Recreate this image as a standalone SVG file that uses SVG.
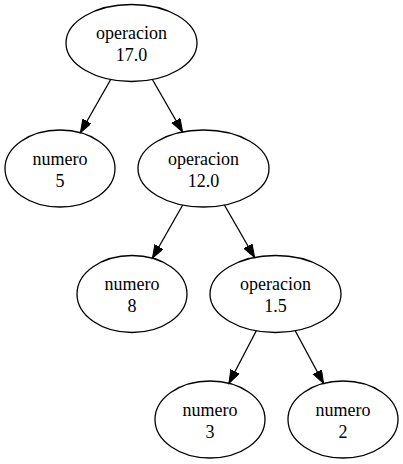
<svg xmlns="http://www.w3.org/2000/svg" width="403" height="464" viewBox="0 0 403 464">
<style>
.node ellipse{fill:none;stroke:#000;stroke-width:1.3}
.node text{font-family:'Liberation Serif','Times New Roman',serif;font-size:18px;fill:#000;text-anchor:middle}
.edge line{stroke:#000;stroke-width:1.3}
</style>
<defs>
<marker id="arr" markerUnits="userSpaceOnUse" markerWidth="15" markerHeight="11" refX="13.3" refY="4.7" orient="auto">
<path d="M0,0 L13.3,4.7 L0,9.4 z" fill="#000" stroke="#000" stroke-width="1"/>
</marker>
</defs>
<rect width="403" height="464" fill="#fff"/>
<g id="edges" class="edge">
<line x1="110.7" y1="79.5" x2="80.4" y2="132.7" marker-end="url(#arr)"/>
<line x1="152.4" y1="79.5" x2="182.6" y2="132" marker-end="url(#arr)"/>
<line x1="182.7" y1="205" x2="152.4" y2="258.2" marker-end="url(#arr)"/>
<line x1="224.4" y1="205" x2="254.6" y2="257.5" marker-end="url(#arr)"/>
<line x1="256.3" y1="330.8" x2="228.9" y2="383.3" marker-end="url(#arr)"/>
<line x1="295.2" y1="330.7" x2="323.6" y2="383.5" marker-end="url(#arr)"/>
</g>
<g id="n1" class="node"><ellipse cx="131.5" cy="43" rx="65.5" ry="38.5"/><text x="131.5" y="39">operacion</text><text x="131.5" y="61">17.0</text></g>
<g id="n2" class="node"><ellipse cx="60" cy="168.5" rx="55" ry="38.5"/><text x="60" y="164.5">numero</text><text x="60" y="186.5">5</text></g>
<g id="n3" class="node"><ellipse cx="203.5" cy="168.5" rx="65.5" ry="38.5"/><text x="203.5" y="164.5">operacion</text><text x="203.5" y="186.5">12.0</text></g>
<g id="n4" class="node"><ellipse cx="132" cy="294" rx="55" ry="38.5"/><text x="132" y="290">numero</text><text x="132" y="312">8</text></g>
<g id="n5" class="node"><ellipse cx="275.5" cy="294" rx="65.5" ry="38.5"/><text x="275.5" y="290">operacion</text><text x="275.5" y="312">1.5</text></g>
<g id="n6" class="node"><ellipse cx="210" cy="419.5" rx="55" ry="38.5"/><text x="210" y="415.5">numero</text><text x="210" y="437.5">3</text></g>
<g id="n7" class="node"><ellipse cx="343" cy="419.5" rx="55" ry="38.5"/><text x="343" y="415.5">numero</text><text x="343" y="437.5">2</text></g>
</svg>
